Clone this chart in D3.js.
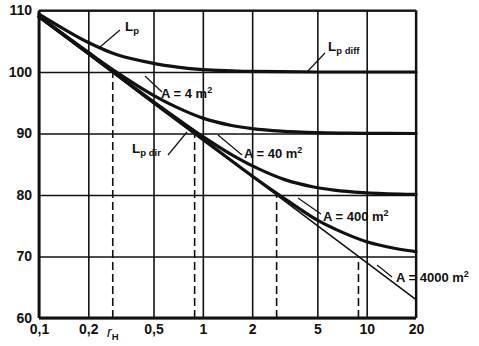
<!DOCTYPE html>
<html><head><meta charset="utf-8">
<script src="https://cdn.jsdelivr.net/npm/d3@7/dist/d3.min.js"></script>
<style>
html,body{margin:0;padding:0;background:#fff;}
svg{display:block;}
text{font-family:"Liberation Sans",Arial,sans-serif;font-weight:bold;fill:#111;}
</style></head>
<body>
<script>
// ---- data ----
const xTicks = [0.1, 0.2, 0.5, 1, 2, 5, 10, 20];
const xTickLabels = ["0,1", "0,2", "0,5", "1", "2", "5", "10", "20"];
const yTicks = [60, 70, 80, 90, 100, 110];
const yTickLabels = ["60", "70", "80", "90", "100", "110"];

const dirR = [0.1, 20];
const dirL = [109, 63];

const a4R = [0.1, 0.15, 0.2, 0.3, 0.5, 0.7, 1, 1.5, 2, 3, 5, 10, 20];
const a4L = [109.4, 106.6, 104.8, 102.8, 101.4, 100.8, 100.4, 100.2, 100.1, 100.05, 100, 100, 100];

const a40R = [0.1, 0.2, 0.3, 0.5, 0.7, 1, 1.5, 2, 3, 5, 7, 10, 20];
const a40L = [109.05, 103.2, 99.9, 96.2, 94.2, 92.5, 91.3, 90.8, 90.4, 90.15, 90.07, 90.03, 90];

const a400R = [0.1, 0.2, 0.316, 0.632, 0.949, 1.58, 2.21, 3.16, 4.74, 6.32, 9.49, 15.8, 20];
const a400L = [109, 103, 99.05, 93.2, 89.9, 86.2, 84.2, 82.5, 81.3, 80.8, 80.4, 80.15, 80.1];

const a4000R = [0.1, 0.3, 0.5, 1, 2, 3, 5, 7, 10, 15, 20];
const a4000L = [109, 99.5, 95.0, 89.05, 83.1, 79.8, 75.9, 74.0, 72.4, 71.3, 70.8];

// critical distances r_H and their levels
const rH = [0.282, 0.891, 2.82, 8.91];
const rHLevel = [100, 90, 80, 70];

// ---- layout ----
const W = 479, H = 346;
const m = {left: 39, right: 63, top: 10.5, bottom: 28};
const iw = W - m.left - m.right, ih = H - m.top - m.bottom;

const svg = d3.select("body").append("svg").attr("width", W).attr("height", H);
const g = svg.append("g").attr("transform", `translate(${m.left},${m.top})`);

const x = d3.scaleLog().domain([0.1, 20]).range([0, iw]);
const y = d3.scaleLinear().domain([60, 110]).range([ih, 0]);

const ink = "#111";

// grid via axes
const gx = g.append("g").attr("transform", `translate(0,${ih})`)
  .call(d3.axisBottom(x).tickValues(xTicks).tickSize(-ih).tickPadding(8)
    .tickFormat((d, i) => xTickLabels[i]));
gx.select(".domain").remove();
gx.selectAll(".tick line").attr("stroke", ink).attr("stroke-width", 1.6);
gx.selectAll(".tick text").attr("font-size", 14).attr("fill", ink).attr("dy", "0.6em");

const gy = g.append("g")
  .call(d3.axisLeft(y).tickValues(yTicks).tickSize(-iw).tickPadding(7)
    .tickFormat((d, i) => yTickLabels[i]));
gy.select(".domain").remove();
gy.selectAll(".tick line").attr("stroke", ink).attr("stroke-width", 1.6);
gy.selectAll(".tick text").attr("font-size", 14).attr("fill", ink);

// frame
g.append("line").attr("x1", 0).attr("x2", iw).attr("y1", 0).attr("y2", 0).attr("stroke", ink).attr("stroke-width", 2.2);
g.append("line").attr("x1", iw).attr("x2", iw).attr("y1", 0).attr("y2", ih).attr("stroke", ink).attr("stroke-width", 2.2);
g.append("line").attr("x1", 0).attr("x2", 0).attr("y1", 0).attr("y2", ih).attr("stroke", ink).attr("stroke-width", 2.8);
g.append("line").attr("x1", 0).attr("x2", iw).attr("y1", ih).attr("y2", ih).attr("stroke", ink).attr("stroke-width", 2.8);

// dashed r_H lines
rH.forEach((r, i) => {
  g.append("line").attr("x1", x(r)).attr("x2", x(r))
    .attr("y1", y(60)).attr("y2", y(rHLevel[i]))
    .attr("stroke", ink).attr("stroke-width", 1.6).attr("stroke-dasharray", "8,4");
});

const line = d3.line().x(d => x(d[0])).y(d => y(d[1])).curve(d3.curveCatmullRom.alpha(0.5));
const zip = (a, b) => a.map((v, i) => [v, b[i]]);

// direct field line (thin)
g.append("path").datum(zip(dirR, dirL)).attr("d", line)
  .attr("fill", "none").attr("stroke", ink).attr("stroke-width", 1.6);

// total level curves (thick)
[[a4R, a4L], [a40R, a40L], [a400R, a400L], [a4000R, a4000L]].forEach(([r, l]) => {
  g.append("path").datum(zip(r, l)).attr("d", line)
    .attr("fill", "none").attr("stroke", ink).attr("stroke-width", 3.2)
    .attr("stroke-linecap", "round");
});

// annotations (pixel positions in svg coordinates)
const leaders = [
  [100, 47, 120, 30],
  [307, 72, 325, 53],
  [145, 76, 162, 92],
  [168, 155, 187, 132],
  [218, 135, 242, 155],
  [298, 198, 321, 214],
  [377, 265, 392, 277]
];
leaders.forEach(l => svg.append("line").attr("x1", l[0]).attr("y1", l[1]).attr("x2", l[2]).attr("y2", l[3])
  .attr("stroke", ink).attr("stroke-width", 1.2));

function subLabel(px, py, main, sub) {
  const t = svg.append("text").attr("x", px).attr("y", py).attr("font-size", 13.5);
  t.append("tspan").text(main);
  t.append("tspan").attr("dy", 3).attr("font-size", 9.5).text(sub);
  return t;
}
function aLabel(px, py, txt) {
  const t = svg.append("text").attr("x", px).attr("y", py).attr("font-size", 13);
  t.append("tspan").text(txt + " m");
  t.append("tspan").attr("dy", -5).attr("font-size", 9).text("2");
}
subLabel(125, 31, "L", "p");
subLabel(328, 51, "L", "p diff");
subLabel(132, 153, "L", "p dir");
aLabel(161, 98, "A = 4");
aLabel(244, 158, "A = 40");
aLabel(323, 221, "A = 400");
aLabel(396, 282, "A = 4000");

// r_H axis label
const rt = svg.append("text").attr("x", x(rH[0]) + m.left).attr("y", 337).attr("text-anchor", "middle").attr("font-size", 14);
rt.append("tspan").attr("font-style", "italic").attr("font-weight", "normal").text("r");
rt.append("tspan").attr("dy", 3).attr("font-size", 9.5).text("H");
</script>
</body></html>
